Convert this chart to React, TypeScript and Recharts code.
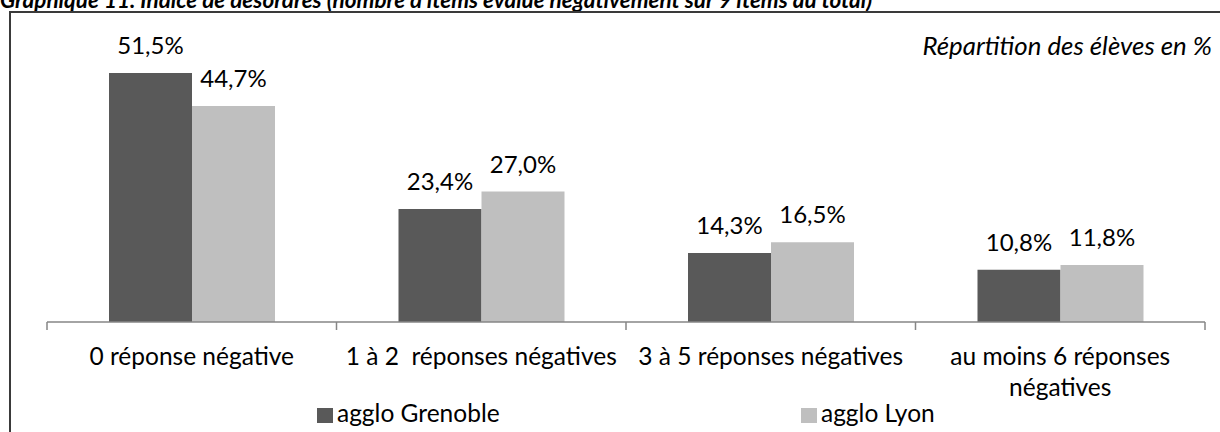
import React from 'react';
import { BarChart, Bar, XAxis, YAxis, LabelList } from 'recharts';

const categories = [
  '0 réponse négative',
  '1 à 2  réponses négatives',
  '3 à 5 réponses négatives',
  'au moins 6 réponses\nnégatives',
];
const grenobleValues = [51.5, 23.4, 14.3, 10.8];
const lyonValues = [44.7, 27.0, 16.5, 11.8];
const seriesNames = ['agglo Grenoble', 'agglo Lyon'];
const yDomain = [0, 60];
const titleText =
  "Graphique 11. Indice de désordres (nombre d'items évalué négativement sur 9 items au total)";
const subtitleText = 'Répartition des élèves en %';

const data = categories.map((c, i) => ({
  category: c,
  grenoble: grenobleValues[i],
  lyon: lyonValues[i],
}));

const W = 1220;
const H = 432;
const X_AXIS_HEIGHT = 110;
const MARGIN = { top: 32, right: 15, bottom: 0, left: 47 };
const HALF_BAND = (W - MARGIN.left - MARGIN.right) / categories.length / 2;
const FONT = 'Lato, "Open Sans", sans-serif';
const AXIS_COLOR = '#868686';
const DARK = '#595959';
const LIGHT = '#bfbfbf';
const TEXT = '#000000';

const fmt = (v: number) => v.toFixed(1).replace('.', ',') + '%';

const CategoryTick = (props: any) => {
  const { x, y, payload, index } = props;
  const lines = String(payload.value).split('\n');
  return (
    <g>
      <line x1={x - HALF_BAND} x2={x - HALF_BAND} y1={y} y2={y + 8} stroke={AXIS_COLOR} strokeWidth={1.5} />
      {index === categories.length - 1 && (
        <line x1={x + HALF_BAND} x2={x + HALF_BAND} y1={y} y2={y + 8} stroke={AXIS_COLOR} strokeWidth={1.5} />
      )}
      <text
        x={x}
        y={y + 43}
        textAnchor="middle"
        fontFamily={FONT}
        fontSize={24.5}
        fill={TEXT}
        style={{ whiteSpace: 'pre' }}
      >
        {lines.map((l, i) => (
          <tspan key={i} x={x} dy={i === 0 ? 0 : 31}>
            {l}
          </tspan>
        ))}
      </text>
    </g>
  );
};

const ValueLabel = (props: any) => {
  const { x, y, width, value } = props;
  return (
    <text
      x={x + width / 2}
      y={y - 19}
      textAnchor="middle"
      fontFamily={FONT}
      fontSize={24}
      fill={TEXT}
    >
      {fmt(value)}
    </text>
  );
};

const legendItems = [
  { name: seriesNames[0], color: DARK, x: 317 },
  { name: seriesNames[1], color: LIGHT, x: 801 },
];

export default function App() {
  return (
    <div
      style={{
        position: 'absolute',
        left: 0,
        top: 0,
        width: W,
        height: H,
        overflow: 'hidden',
        background: '#fff',
      }}
    >
      <svg width={W} height={H} style={{ position: 'absolute', left: 0, top: 0 }}>
        <text
          x={0}
          y={8}
          fontFamily={FONT}
          fontWeight="bold"
          fontStyle="italic"
          fontSize={22.5}
          fill={TEXT}
        >
          {titleText}
        </text>
        <path d={`M10 ${H + 10} L10 12 L${W + 10} 12`} fill="none" stroke="#3a3a3a" strokeWidth={2} />
        <text
          x={1212}
          y={55}
          textAnchor="end"
          fontFamily={FONT}
          fontStyle="italic"
          fontSize={25.8}
          fill={TEXT}
        >
          {subtitleText}
        </text>
        {legendItems.map((it) => (
          <g key={it.name}>
            <rect x={it.x} y={408} width={16} height={15} fill={it.color} />
            <text x={it.x + 20} y={422} fontFamily={FONT} fontSize={24.5} fill={TEXT}>
              {it.name}
            </text>
          </g>
        ))}
      </svg>
      <div style={{ position: 'absolute', left: 0, top: 0 }}>
        <BarChart
          width={W}
          height={H}
          data={data}
          margin={MARGIN}
          barGap={0}
          barCategoryGap={62}
        >
          <XAxis
            dataKey="category"
            axisLine={{ stroke: AXIS_COLOR, strokeWidth: 1.5 }}
            tickLine={false}
            tickSize={0}
            tickMargin={0}
            interval={0}
            tick={<CategoryTick />}
            height={X_AXIS_HEIGHT}
          />
          <YAxis hide domain={yDomain} />
          <Bar dataKey="grenoble" name={seriesNames[0]} fill={DARK} isAnimationActive={false}>
            <LabelList dataKey="grenoble" content={<ValueLabel />} />
          </Bar>
          <Bar dataKey="lyon" name={seriesNames[1]} fill={LIGHT} isAnimationActive={false}>
            <LabelList dataKey="lyon" content={<ValueLabel />} />
          </Bar>
        </BarChart>
      </div>
    </div>
  );
}
